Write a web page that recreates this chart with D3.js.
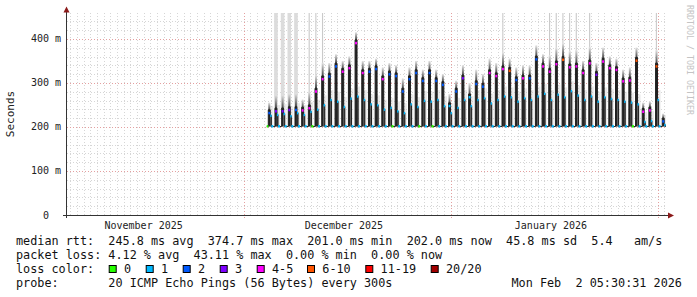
<!DOCTYPE html>
<html>
<head>
<meta charset="utf-8">
<script src="https://cdn.jsdelivr.net/npm/d3@7"></script>
<style>
  body { margin: 0; background: #fff; }
  svg { display: block; }
  text { font-family: "DejaVu Sans Mono", monospace; white-space: pre; }
</style>
</head>
<body>
<div id="chart"></div>
<script>
// valores, un dato por dia desde el 4 dic 2025 hasta el 1 feb 2026
var firstDay = Date.UTC(2025, 11, 4);
var dataStart = Date.UTC(2025, 11, 4, 10, 30);
var viewStart = Date.UTC(2025, 10, 4, 12, 30);
var viewEnd = Date.UTC(2026, 1, 2, 5, 30);

var baseMs = 201;
var peakMs = [239,243,243,246,246,245,250,288,316,322, 345,333,341,398,330,333,339,316,327,323,
              288,316,330,312,330,312,303,255,288,318, 275,305,299,330,323,339,335,314,318,318,
              361,345,333,350,360,343,345,330,352,326, 356,341,337,311,313,358,242,245,345,220];
var midMs  = [226,228,230,225,232,228,235,240,250,262, 258,246,265,270,262,252,250,240,244,236,
              232,252,246,260,258,262,248,232,244,262, 248,262,266,254,262,270,268,258,266,262,
              270,276,262,274,268,282,272,262,270,258, 268,264,262,258,256,252,212,214,262,205];
var maxMs  = [255,480,480,480,480,262,480,480,480,345, 365,350,360,415,350,350,355,335,345,340,
              310,335,350,330,350,330,320,275,305,340, 300,330,320,355,345,480,355,335,340,340,
              385,365,480,480,480,480,480,350,480,345, 380,360,355,330,335,380,255,258,480,230];
var peakLoss = [2,3,3,3,2,4,4,4,4,2, 2,4,4,4,4,2,2,4,2,2, 2,2,2,2,2,2,2,1,2,3,
                1,2,2,4,4,4,5,2,4,2, 2,4,4,4,5,4,4,4,4,3, 4,4,4,4,4,5,4,4,5,2];
var baseLoss = [0,1,1,1,1,1,1,0,1,1, 1,1,1,1,1,1,1,1,1,0, 1,1,1,0,1,0,1,1,1,1,
                1,1,1,1,1,1,1,1,1,1, 1,1,1,1,1,1,1,1,1,1, 1,1,1,1,1,0,1,1,1,1];
var wideSmoke = [1,2,3,4];

var lossLabels = ['0','1','2','3','4-5','6-10','11-19','20/20'];
var lossColors = ['#26ff00','#00b8ff','#0059ff','#7e00ff','#ff00ff','#ff5500','#ff0000','#a10000'];

var yTicks = [0, 0.1, 0.2, 0.3, 0.4];
var yTickLabels = ['0  ', '100 m', '200 m', '300 m', '400 m'];
var monthLabels = ['November 2025', 'December 2025', 'January 2026'];
var monthMid = [Date.UTC(2025, 10, 16), Date.UTC(2025, 11, 16), Date.UTC(2026, 0, 16)];

var legendLines = [
  'median rtt:  245.8 ms avg  374.7 ms max  201.0 ms min  202.0 ms now  45.8 ms sd  5.4   am/s',
  'packet loss: 4.12 % avg  43.11 % max  0.00 % min  0.00 % now',
  'loss color:',
  'probe:       20 ICMP Echo Pings (56 Bytes) every 300s'
];
var stamp = 'Mon Feb  2 05:30:31 2026';

var width = 697, height = 297;
var svg = d3.select('#chart').append('svg')
    .attr('width', width)
    .attr('height', height);

var x = d3.scaleUtc().domain([new Date(viewStart), new Date(viewEnd)]).range([67, 666]);
var y = d3.scaleLinear().domain([0, 0.459]).range([215, 13]);

function t(day, hour) { return new Date(firstDay + day * 864e5 + hour * 36e5); }
function px(v) { return Math.round(v) + 0.5; }

// rejilla
var grid = svg.append('g');
grid.selectAll('.hmin').data(d3.range(0.02, 0.46, 0.02)).enter().append('line')
    .attr('x1', 67).attr('x2', 666)
    .attr('y1', d => px(y(d))).attr('y2', d => px(y(d)))
    .attr('stroke', '#d6d6d6').attr('stroke-dasharray', '1,2');
grid.selectAll('.vmin').data(x.ticks(d3.utcDay)).enter().append('line')
    .attr('x1', d => px(x(d))).attr('x2', d => px(x(d)))
    .attr('y1', 13).attr('y2', 215)
    .attr('stroke', '#d6d6d6').attr('stroke-dasharray', '1,2');
grid.selectAll('.hmaj').data(yTicks.slice(1)).enter().append('line')
    .attr('x1', 67).attr('x2', 666)
    .attr('y1', d => px(y(d))).attr('y2', d => px(y(d)))
    .attr('stroke', '#e4a0a0').attr('stroke-dasharray', '1,2');
grid.selectAll('.vmaj').data(x.ticks(d3.utcMonth)).enter().append('line')
    .attr('x1', d => px(x(d))).attr('x2', d => px(x(d)))
    .attr('y1', 13).attr('y2', 218)
    .attr('stroke', '#e4a0a0').attr('stroke-dasharray', '1,2');

// datos
svg.append('clipPath').attr('id', 'plot')
  .append('rect').attr('x', 67).attr('y', 13).attr('width', 599).attr('height', 202);

var defs = svg.append('defs');
var grad = defs.append('linearGradient').attr('id', 'fade')
    .attr('x1', 0).attr('x2', 0).attr('y1', 1).attr('y2', 0);
grad.append('stop').attr('offset', 0).attr('stop-color', '#444');
grad.append('stop').attr('offset', 1).attr('stop-color', '#e4e4e4');

var plot = svg.append('g').attr('clip-path', 'url(#plot)');
var days = d3.range(peakMs.length);

// humo: valores maximos (lineas grises hasta arriba)
plot.selectAll('.smokemax').data(days).enter().append('rect')
    .attr('x', d => x(t(d, wideSmoke.includes(d) ? 13 : 17)))
    .attr('width', d => x(t(d, wideSmoke.includes(d) ? 26 : 21)) - x(t(d, wideSmoke.includes(d) ? 13 : 17)))
    .attr('y', d => y(maxMs[d] / 1000))
    .attr('height', d => y(peakMs[d] / 1000) - y(maxMs[d] / 1000))
    .attr('fill', d => wideSmoke.includes(d) ? '#dcdcdc' : '#cacaca');

// humo difuso alrededor de los picos
plot.selectAll('.haze').data(days).enter().append('rect')
    .attr('x', d => x(t(d, 22)))
    .attr('width', d => x(t(d, 34)) - x(t(d, 22)))
    .attr('y', d => y((midMs[d] + 22) / 1000))
    .attr('height', d => y(baseMs / 1000) - y((midMs[d] + 22) / 1000))
    .attr('fill', '#b8b8b8').attr('opacity', 0.3);

plot.selectAll('.fade').data(days).enter().append('rect')
    .attr('x', d => x(t(d, 16)))
    .attr('width', d => x(t(d, 23)) - x(t(d, 16)))
    .attr('y', d => y(Math.min(maxMs[d], peakMs[d] + 30) / 1000))
    .attr('height', d => y(peakMs[d] / 1000) - y(Math.min(maxMs[d], peakMs[d] + 30) / 1000))
    .attr('fill', 'url(#fade)');

// barras oscuras (humo denso)
plot.selectAll('.core').data(days).enter().append('rect')
    .attr('x', d => x(t(d, 16)))
    .attr('width', d => x(t(d, 23)) - x(t(d, 16)))
    .attr('y', d => y(peakMs[d] / 1000))
    .attr('height', d => y(baseMs / 1000) - y(peakMs[d] / 1000))
    .attr('fill', '#222');
plot.selectAll('.midcore').data(days).enter().append('rect')
    .attr('x', d => x(t(d, 23)))
    .attr('width', d => x(t(d, 27)) - x(t(d, 23)))
    .attr('y', d => y(midMs[d] / 1000))
    .attr('height', d => y(baseMs / 1000) - y(midMs[d] / 1000))
    .attr('fill', '#3a3a3a');

// linea de la mediana
var medPts = [[new Date(dataStart), baseMs]];
days.forEach(function(d) {
  if (d > 0) medPts.push([t(d, 3), baseMs]);
  medPts.push([t(d, 16), peakMs[d]]);
  medPts.push([t(d, 23), midMs[d]]);
});
medPts.push([t(peakMs.length, 3), baseMs]);
medPts.push([new Date(viewEnd), baseMs]);

var line = d3.line()
    .x(d => x(d[0]))
    .y(d => y(d[1] / 1000))
    .curve(d3.curveStepAfter);
plot.append('path').datum(medPts)
    .attr('d', line)
    .attr('fill', 'none')
    .attr('stroke', '#202020')
    .attr('stroke-width', 1);

// puntos de la mediana coloreados por perdida
plot.selectAll('.basedot').data(days).enter().append('rect')
    .attr('x', d => x(d == 0 ? new Date(dataStart) : t(d, 3)))
    .attr('width', d => x(t(d, d == 0 ? 16 : 10)) - x(d == 0 ? new Date(dataStart) : t(d, 3)))
    .attr('y', y(baseMs / 1000) - 1.5).attr('height', 2.5)
    .attr('fill', d => lossColors[baseLoss[d]]);
plot.selectAll('.middot').data(days).enter().append('rect')
    .attr('x', d => x(t(d, 23)))
    .attr('width', d => x(t(d, 28)) - x(t(d, 23)))
    .attr('y', d => y(midMs[d] / 1000) - 1).attr('height', 2.5)
    .attr('fill', lossColors[1]);
plot.selectAll('.peakdot').data(days).enter().append('rect')
    .attr('x', d => x(t(d, 16)))
    .attr('width', d => x(t(d, 23)) - x(t(d, 16)))
    .attr('y', d => y(peakMs[d] / 1000) + 2).attr('height', 2.5)
    .attr('fill', d => lossColors[peakLoss[d]]);

// ejes
var axisColor = '#333';
var arrowColor = '#8b1a1a';
svg.append('line').attr('x1', 63).attr('x2', 670).attr('y1', 215.5).attr('y2', 215.5)
    .attr('stroke', axisColor);
svg.append('line').attr('x1', 66.5).attr('x2', 66.5).attr('y1', 218).attr('y2', 11)
    .attr('stroke', axisColor);
svg.append('path').attr('d', 'M63.5,12.5 L66.5,6.5 L69.5,12.5 Z').attr('fill', arrowColor);
svg.append('path').attr('d', 'M668,212.5 L674,215.5 L668,218.5 Z').attr('fill', arrowColor);

svg.selectAll('.ylab').data(yTicks).enter().append('text')
    .attr('x', 61).attr('y', d => y(d) + 3.5)
    .attr('text-anchor', 'end')
    .attr('font-size', 10).attr('fill', '#222')
    .text((d, i) => yTickLabels[i]);

svg.selectAll('.xlab').data(monthMid).enter().append('text')
    .attr('x', d => x(new Date(d))).attr('y', 229)
    .attr('text-anchor', 'middle')
    .attr('font-size', 10).attr('fill', '#222')
    .text((d, i) => monthLabels[i]);

svg.append('text')
    .attr('transform', 'translate(14,114) rotate(-90)')
    .attr('text-anchor', 'middle')
    .attr('font-family', '"DejaVu Sans", sans-serif')
    .attr('font-size', 11).attr('fill', '#222')
    .text('Seconds');

svg.append('text')
    .attr('transform', 'translate(686.5,5) rotate(90)')
    .attr('font-size', 8.3).attr('fill', '#c4c4c4')
    .text('RRDTOOL / TOBI OETIKER');

// leyenda
var legend = svg.append('g').attr('font-size', 11.8).attr('fill', '#111');
legend.selectAll('text.line').data(legendLines).enter().append('text')
    .attr('x', 16).attr('y', (d, i) => 245 + i * 14)
    .text(d => d);
legend.append('text').attr('x', 511.5).attr('y', 287).text(stamp);

var boxX = [108.7, 145.7, 182.7, 219.7, 256.7, 307, 365.3, 430.7];
legend.selectAll('rect.box').data(lossColors).enter().append('rect')
    .attr('x', (d, i) => boxX[i] + 0.5).attr('y', 265.5)
    .attr('width', 7).attr('height', 7)
    .attr('fill', d => d).attr('stroke', '#000');
legend.selectAll('text.lbl').data(lossLabels).enter().append('text')
    .attr('x', (d, i) => boxX[i] + 15.3).attr('y', 273)
    .text(d => d);
</script>
</body>
</html>
